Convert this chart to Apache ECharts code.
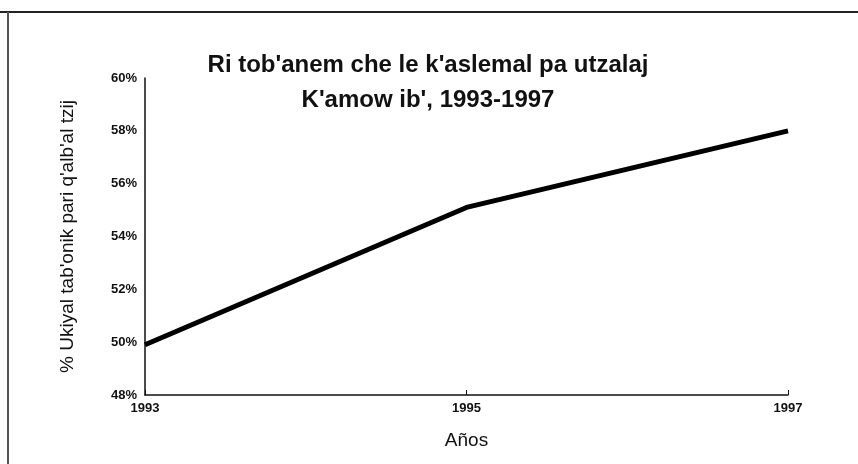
<!DOCTYPE html>
<html>
<head>
<meta charset="utf-8">
<script src="https://cdn.jsdelivr.net/npm/echarts@6/dist/echarts.min.js"></script>
<style>
    html, body { margin: 0; padding: 0; background: #fff; }
    #chart { width: 858px; height: 464px; }
</style>
</head>
<body>
<div id="chart"></div>
<script>
    // data
    var years = ['1993', '1995', '1997'];
    var share = [49.9, 55.1, 58.0];
    var yMin = 48, yMax = 60, yStep = 2;

    var chart = echarts.init(document.getElementById('chart'));
    var option = {
        backgroundColor: '#ffffff',
        animation: false,
        title: {
            text: "Ri tob'anem che le k'aslemal pa utzalaj\nK'amow ib', 1993-1997",
            left: 423,
            top: 43,
            textAlign: 'center',
            textStyle: {
                fontFamily: 'Liberation Sans, Arial, sans-serif',
                fontWeight: 'bold',
                fontSize: 24,
                lineHeight: 35,
                color: '#111'
            }
        },
        graphic: [
            { type: 'line', shape: { x1: 0, y1: 12, x2: 858, y2: 12 }, style: { stroke: '#222', lineWidth: 2 } },
            { type: 'line', shape: { x1: 8, y1: 12, x2: 8, y2: 464 }, style: { stroke: '#555', lineWidth: 2 } }
        ],
        grid: {
            left: 145,
            top: 78,
            right: 70,
            bottom: 69
        },
        xAxis: {
            type: 'category',
            data: years,
            boundaryGap: false,
            name: 'Años',
            nameLocation: 'middle',
            nameGap: 36,
            nameTextStyle: {
                fontFamily: 'Liberation Sans, Arial, sans-serif',
                fontSize: 19,
                color: '#111'
            },
            axisLine: { lineStyle: { color: '#111', width: 1.5 } },
            axisTick: { show: true, inside: true, length: 5, lineStyle: { color: '#111' } },
            axisLabel: {
                fontFamily: 'Liberation Sans Narrow, Liberation Sans, Arial, sans-serif',
                fontWeight: 'bold',
                fontSize: 13,
                color: '#111',
                margin: 7
            },
            splitLine: { show: false }
        },
        yAxis: {
            type: 'value',
            min: yMin,
            max: yMax,
            interval: yStep,
            name: "% Ukiyal tab'onik pari q'alb'al tzij",
            nameLocation: 'middle',
            nameGap: 68,
            nameTextStyle: {
                fontFamily: 'Liberation Sans, Arial, sans-serif',
                fontSize: 19,
                color: '#111'
            },
            axisLine: { show: true, lineStyle: { color: '#111', width: 1.5 } },
            axisTick: { show: false },
            axisLabel: {
                formatter: '{value}%',
                fontFamily: 'Liberation Sans Narrow, Liberation Sans, Arial, sans-serif',
                fontWeight: 'bold',
                fontSize: 13,
                color: '#111',
                margin: 8
            },
            splitLine: { show: false }
        },
        series: [
            {
                type: 'line',
                data: share,
                symbol: 'none',
                lineStyle: { color: '#000', width: 5 }
            }
        ]
    };
    chart.setOption(option);
</script>
</body>
</html>
